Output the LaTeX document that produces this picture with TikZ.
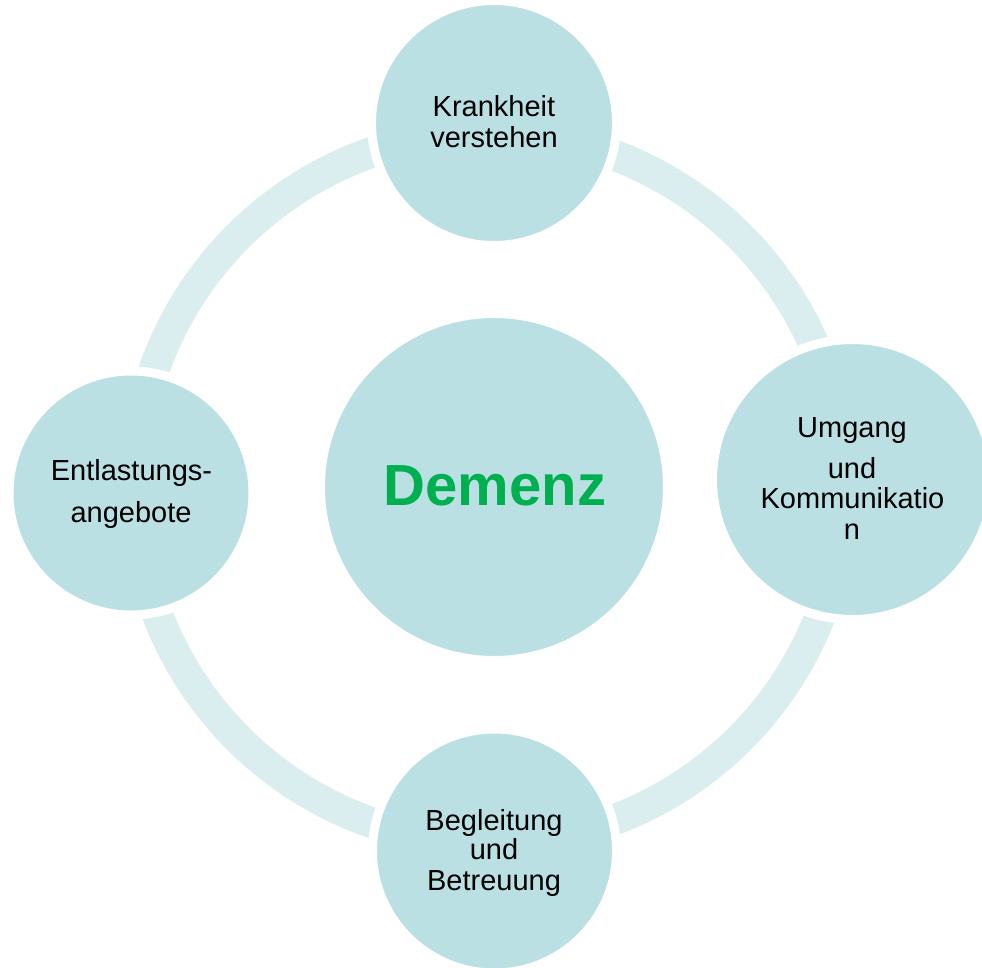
\documentclass[tikz,border=0pt]{standalone}
\usepackage{fontspec}
\setmainfont{Liberation Sans}
\definecolor{ringc}{HTML}{DAEDEF}
\definecolor{circc}{HTML}{BBE0E3}
\definecolor{demgreen}{HTML}{00B050}
\begin{document}
\begin{tikzpicture}[x=1pt,y=-1pt,
  bubble/.style={circle, fill=circc, draw=white, line width=9pt, inner sep=0pt},
  lbl/.style={anchor=base, inner sep=0pt, font=\fontsize{29}{31}\selectfont, text=black}]
\useasboundingbox (0,0) rectangle (982,967);
\clip (0,0) rectangle (982,967);
% ring
\coordinate (rc) at (489,487.5);
\draw[ringc, line width=31pt] (rc) circle[radius=355pt];
% circles
\node[bubble, minimum size=347pt] (center) at (494,487) {};
\node[bubble, minimum size=245pt] (top) at (494,123) {};
\node[bubble, minimum size=280pt] (right) at (852.5,479.5) {};
\node[bubble, minimum size=244pt] (bottom) at (494.5,851) {};
\node[bubble, minimum size=244pt] (left) at (131,493) {};
% texts
\node[anchor=base, inner sep=0pt, font=\fontsize{58}{60}\selectfont\bfseries, text=demgreen] (tdem) at (495,505) {Demenz};
\node[lbl] (t1a) at (494,116) {Krankheit};
\node[lbl] (t1b) at (494,147) {verstehen};
\node[lbl] (t2a) at (852,437) {Umgang};
\node[lbl] (t2b) at (852,478) {und};
\node[lbl] (t2c) at (852.5,508) {Kommunikatio};
\node[lbl] (t2d) at (852,539) {n};
\node[lbl] (t3a) at (494,830) {Begleitung};
\node[lbl] (t3b) at (494,859) {und};
\node[lbl] (t3c) at (494,890) {Betreuung};
\node[lbl] (t4a) at (131.5,480) {Entlastungs-};
\node[lbl] (t4b) at (131,522) {angebote};
\end{tikzpicture}
\end{document}
